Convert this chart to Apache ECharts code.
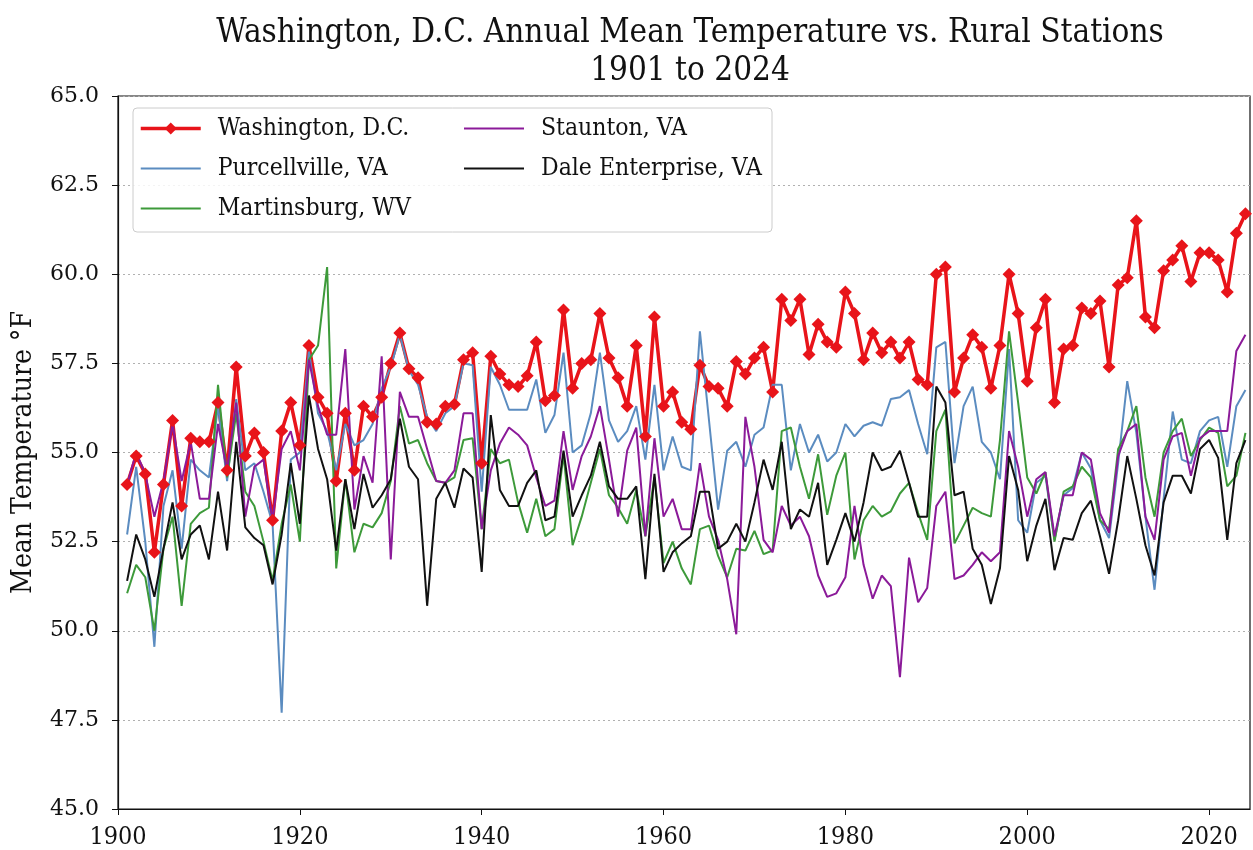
<!DOCTYPE html>
<html>
<head>
<meta charset="utf-8">
<script src="https://cdn.jsdelivr.net/npm/echarts@6/dist/echarts.min.js"></script>
<style>
  html, body { margin: 0; padding: 0; background: #fff; }
  #main { width: 1253px; height: 850px; }
</style>
</head>
<body>
<div id="main"></div>
<script>
// annual mean temperature (°F), one value per year starting 1901
var firstYear = 1901;

var washington = [
  54.1, 54.9, 54.4, 52.2, 54.1, 55.9, 53.5, 55.4, 55.3, 55.3,
  56.4, 54.5, 57.4, 54.9, 55.55, 55.0, 53.1, 55.6, 56.4, 55.2,
  58.0, 56.55, 56.1, 54.2, 56.1, 54.5, 56.3, 56.0, 56.55, 57.5,
  58.35, 57.35, 57.1, 55.85, 55.8, 56.3, 56.35, 57.6, 57.8, 54.7,
  57.7, 57.2, 56.9, 56.85, 57.15, 58.1, 56.45, 56.6, 59.0, 56.8,
  57.5, 57.6, 58.9, 57.65, 57.1, 56.3, 58.0, 55.45, 58.8, 56.3,
  56.7, 55.85, 55.65, 57.45, 56.85, 56.8, 56.3, 57.55, 57.2, 57.65,
  57.95, 56.7, 59.3, 58.7, 59.3, 57.75, 58.6, 58.1, 57.95, 59.5,
  58.9, 57.6, 58.35, 57.8, 58.1, 57.65, 58.1, 57.05, 56.9, 60.0,
  60.2, 56.7, 57.65, 58.3, 57.95, 56.8, 58.0, 60.0, 58.9, 57.0,
  58.5, 59.3, 56.4, 57.9, 58.0, 59.05, 58.9, 59.25, 57.4, 59.7,
  59.9, 61.5, 58.8, 58.5, 60.1, 60.4, 60.8, 59.8, 60.6, 60.6,
  60.4, 59.5, 61.15, 61.7
];

var purcellville = [
  52.7, 54.6, 52.5, 49.55, 53.5, 54.5, 52.3, 54.8, 54.5, 54.3,
  56.3, 54.2, 56.5, 54.5, 54.7, 53.9, 53.0, 47.7, 54.8, 55.0,
  57.85, 56.1, 55.6, 54.5, 55.8, 55.2, 55.35, 55.8, 56.8, 57.4,
  58.3, 57.3, 56.9, 56.0, 55.6, 56.1, 56.3, 57.5, 57.45, 53.9,
  57.4, 56.9, 56.2, 56.2, 56.2, 57.05, 55.55, 56.05, 57.8, 55.0,
  55.2, 56.1, 57.8, 55.9, 55.3, 55.6, 56.3, 54.8, 56.9, 54.5,
  55.45, 54.6, 54.5, 58.4, 55.9, 53.4, 55.05, 55.3, 54.6, 55.5,
  55.7, 56.9, 56.9, 54.5, 55.8, 55.0, 55.5, 54.75, 55.0, 55.8,
  55.45, 55.75, 55.85, 55.75, 56.5, 56.55, 56.75, 55.8, 54.95, 57.95,
  58.1, 54.7, 56.3, 56.85, 55.3, 55.0, 54.25, 57.9, 53.1, 52.75,
  54.15, 54.35, 52.55, 53.8, 54.0, 55.0, 54.55, 53.1, 52.6, 54.7,
  57.0, 55.55, 53.2, 51.15, 53.7, 56.15, 54.8, 54.7, 55.6, 55.9,
  56.0, 54.6, 56.3, 56.75
];

var martinsburg = [
  51.05, 51.85, 51.5, 50.0, 52.3, 53.2, 50.7, 53.0, 53.3, 53.45,
  56.9, 54.3, 56.1, 53.9, 53.5, 52.5, 51.4, 53.0, 54.1, 52.5,
  57.6, 58.0, 60.2, 51.75, 54.25, 52.2, 53.0, 52.9, 53.3, 54.2,
  56.3, 55.25, 55.35, 54.7, 54.2, 54.15, 54.3, 55.35, 55.4, 52.85,
  55.1, 54.7, 54.8, 53.6, 52.75, 53.7, 52.65, 52.85, 54.95, 52.4,
  53.2, 54.15, 55.1, 53.8, 53.45, 53.0, 53.95, 52.65, 54.3, 51.9,
  52.5, 51.75, 51.3, 52.85, 52.95, 52.1, 51.5, 52.3, 52.25, 52.8,
  52.15, 52.25, 55.6, 55.7, 54.6, 53.7, 54.95, 53.25, 54.35, 55.0,
  52.0, 53.1, 53.5, 53.2, 53.35, 53.85, 54.15, 53.3, 52.55, 55.6,
  56.2, 52.45, 52.95, 53.45, 53.3, 53.2, 55.35, 58.4, 56.4, 54.3,
  53.85, 54.45, 52.5, 53.9, 54.05, 54.6, 54.3, 53.1, 52.85, 55.1,
  55.6, 56.3, 54.3, 53.2, 55.0, 55.6, 55.95, 54.9, 55.35, 55.7,
  55.55, 54.05, 54.35, 55.55
];

var staunton = [
  54.1, 55.0, 54.4, 53.2, 54.2, 55.8, 54.2, 55.3, 53.7, 53.7,
  55.8, 54.5, 56.4, 53.2, 54.6, 54.8, 53.1, 55.1, 55.6, 54.5,
  57.6, 56.3, 55.5, 55.5, 57.9, 53.4, 54.9, 54.15, 57.7, 52.0,
  56.7, 56.0, 56.0, 55.1, 54.2, 54.15, 54.5, 56.1, 56.1, 52.85,
  54.5, 55.25, 55.7, 55.5, 55.2, 54.3, 53.5, 53.65, 55.6, 53.95,
  54.9, 55.45, 56.3, 54.8, 53.2, 55.05, 55.7, 52.65, 55.4, 53.2,
  53.7, 52.85, 52.85, 54.7, 53.2, 52.55, 51.45, 49.9, 56.0, 54.6,
  52.55, 52.2, 53.5, 52.95, 53.2, 52.65, 51.55, 50.95, 51.05, 51.5,
  53.5, 51.85, 50.9, 51.55, 51.25, 48.7, 52.05, 50.8, 51.2, 53.5,
  53.9, 51.45, 51.55, 51.85, 52.2, 51.95, 52.2, 55.6, 54.6, 53.2,
  54.25, 54.45, 52.65, 53.8, 53.8, 55.0, 54.8, 53.3, 52.75, 54.9,
  55.6, 55.8, 53.2, 52.55, 54.8, 55.45, 55.55, 54.35, 55.4, 55.6,
  55.6, 55.6, 57.85, 58.3
];

var daleEnterprise = [
  51.4, 52.7, 52.0, 50.95, 52.3, 53.6, 52.0, 52.7, 52.95, 52.0,
  53.9, 52.25, 55.3, 52.9, 52.6, 52.4, 51.3, 52.7, 54.7, 53.0,
  56.6, 55.1, 54.25, 52.25, 54.25, 52.85, 54.4, 53.45, 53.8, 54.25,
  55.95, 54.6, 54.25, 50.7, 53.7, 54.15, 53.45, 54.55, 54.3, 51.65,
  56.05, 53.95, 53.5, 53.5, 54.15, 54.5, 53.1, 53.2, 55.05, 53.2,
  53.8, 54.35, 55.3, 54.05, 53.7, 53.7, 54.05, 51.45, 54.4, 51.65,
  52.2, 52.45, 52.65, 53.9, 53.9, 52.3, 52.5, 53.0, 52.5, 53.6,
  54.8, 53.95, 55.3, 52.85, 53.4, 53.2, 54.15, 51.85, 52.55, 53.3,
  52.5, 53.6, 55.0, 54.5, 54.6, 55.05, 54.15, 53.2, 53.2, 56.85,
  56.4, 53.8, 53.9, 52.3, 51.85, 50.75, 51.75, 54.9, 53.95, 51.95,
  52.95, 53.7, 51.7, 52.6, 52.55, 53.3, 53.65, 52.65, 51.6, 53.1,
  54.9, 53.7, 52.4, 51.55, 53.6, 54.35, 54.35, 53.85, 55.1, 55.35,
  54.85, 52.55, 54.7, 55.35
];

var seriesNames = ['Washington, D.C.', 'Purcellville, VA', 'Martinsburg, WV', 'Staunton, VA', 'Dale Enterprise, VA'];
var seriesColors = ['#e8141a', '#5b8cc0', '#3d9a3a', '#8b1a99', '#111111'];
var yTicks = [45, 47.5, 50, 52.5, 55, 57.5, 60, 62.5, 65];
var xTicks = [1900, 1920, 1940, 1960, 1980, 2000, 2020];

function pairs(vals) {
  return vals.map(function (v, i) { return [firstYear + i, v]; });
}

var serif = 'DejaVu Serif Condensed';

var myChart = echarts.init(document.getElementById('main'));

var lineSeries = [washington, purcellville, martinsburg, staunton, daleEnterprise].map(function (vals, i) {
  var s = {
    name: seriesNames[i],
    type: 'line',
    data: pairs(vals),
    color: seriesColors[i],
    lineStyle: { width: i === 0 ? 3.5 : 2, color: seriesColors[i] },
    symbol: 'none',
    animation: false,
    z: 2
  };
  if (i === 0) {
    s.symbol = 'diamond';
    s.symbolSize = 13;
    s.showSymbol = true;
    s.itemStyle = { color: seriesColors[0], borderWidth: 0 };
  }
  return s;
});

// legend entries: only D.C. keeps its marker
function legendItems(names) {
  return names.map(function (n) {
    if (n === seriesNames[0]) {
      return { name: n, lineStyle: { width: 3.5 } };
    }
    return { name: n, itemStyle: { opacity: 0 }, lineStyle: { width: 2 } };
  });
}

var legendText = { fontFamily: serif, fontSize: 24.5, color: '#111', lineHeight: 25, padding: [0, 0, 0, 12] };

var option = {
  backgroundColor: '#fff',
  animation: false,
  title: {
    text: 'Washington, D.C. Annual Mean Temperature vs. Rural Stations\n1901 to 2024',
    left: 685,
    top: 9,
    textAlign: 'center',
    textStyle: { fontFamily: serif, fontSize: 33, fontWeight: 'normal', color: '#111', lineHeight: 38 }
  },
  graphic: [{
    type: 'rect',
    shape: { x: 133, y: 108, width: 639, height: 124, r: 4 },
    style: { fill: 'rgba(255,255,255,0.85)', stroke: '#cccccc', lineWidth: 1 },
    z: 6
  }],
  legend: [{
    data: legendItems(seriesNames.slice(0, 3)),
    orient: 'vertical',
    left: 134,
    top: 111,
    itemWidth: 60,
    itemHeight: 15,
    itemGap: 15,
    textStyle: legendText,
    z: 10
  }, {
    data: legendItems(seriesNames.slice(3)),
    orient: 'vertical',
    left: 458,
    top: 111,
    itemWidth: 60,
    itemHeight: 15,
    itemGap: 15,
    textStyle: legendText,
    z: 10
  }],
  grid: {
    left: 118, right: 3, top: 96, bottom: 41,
    outerBoundsMode: 'none',
    containLabel: false,
    show: true, borderColor: '#111', borderWidth: 1.2, backgroundColor: '#fff'
  },
  xAxis: {
    type: 'value',
    min: 1900,
    max: 2024.5,
    interval: 20,
    axisLine: { lineStyle: { color: '#111', width: 1.2 } },
    axisTick: { show: true, length: 6, lineStyle: { color: '#111' } },
    axisLabel: {
      fontFamily: serif, fontSize: 25, color: '#111', margin: 16, showMaxLabel: false,
      formatter: function (v) { return xTicks.indexOf(v) >= 0 ? String(v) : ''; }
    },
    splitLine: { show: false }
  },
  yAxis: {
    type: 'value',
    min: 45,
    max: 65,
    interval: 2.5,
    name: 'Mean Temperature °F',
    nameLocation: 'middle',
    nameGap: 80,
    nameTextStyle: { fontFamily: serif, fontSize: 28, color: '#111' },
    axisLine: { show: true, lineStyle: { color: '#111', width: 1.2 } },
    axisTick: { show: true, length: 6, lineStyle: { color: '#111' } },
    axisLabel: {
      fontFamily: 'DejaVu Serif', fontSize: 22, color: '#111', margin: 19,
      formatter: function (v) { return yTicks.indexOf(v) >= 0 ? v.toFixed(1) : ''; }
    },
    splitLine: { show: true, lineStyle: { color: '#b0b0b0', type: [2, 3], width: 1 } }
  },
  series: lineSeries
};

myChart.setOption(option);
</script>
</body>
</html>
